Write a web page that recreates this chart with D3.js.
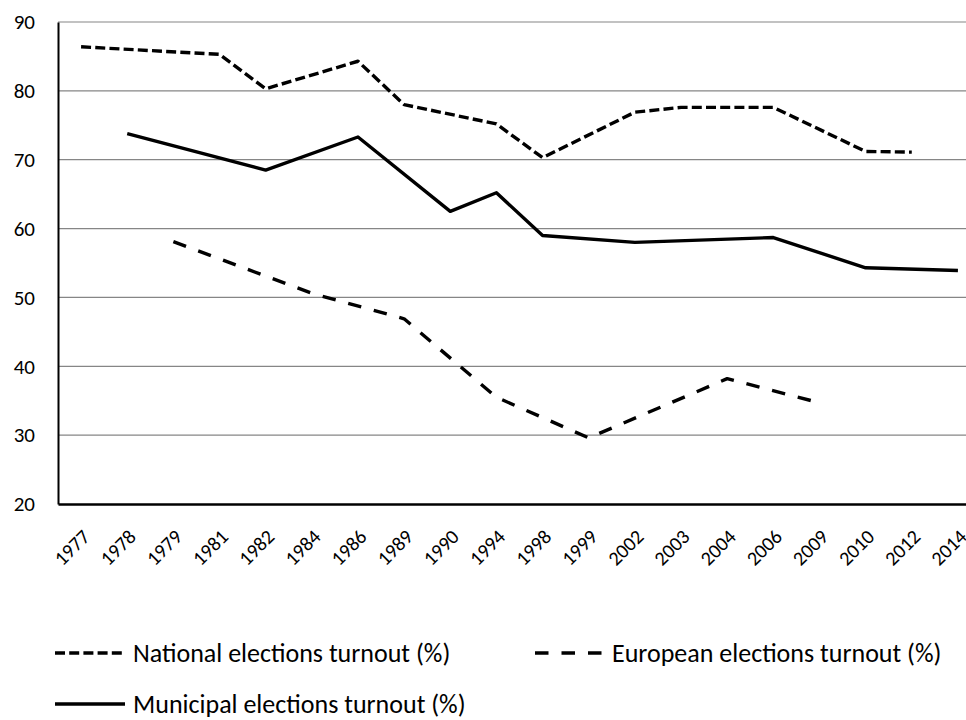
<!DOCTYPE html>
<html>
<head>
<meta charset="utf-8">
<script src="https://cdn.jsdelivr.net/npm/d3@7"></script>
<style>
  body { margin: 0; background: #fff; }
  svg { display: block; font-family: Carlito, Lato, sans-serif; }
</style>
</head>
<body>
<div id="chart"></div>
<script>
// election years on the x axis (categorical)
const years = ["1977", "1978", "1979", "1981", "1982", "1984", "1986", "1989", "1990", "1994",
  "1998", "1999", "2002", "2003", "2004", "2006", "2009", "2010", "2012", "2014"];

// turnout per year, null where there was no election of that kind
const national = [86.4, null, null, 85.3, 80.3, null, 84.3, 78.0, null, 75.2,
  70.3, null, 76.9, 77.6, null, 77.6, null, 71.2, 71.1, null];
const european = [null, null, 58.1, null, null, 50.6, null, 46.9, null, 35.5,
  null, 29.6, null, null, 38.2, null, 34.7, null, null, null];
const municipal = [null, 73.8, null, null, 68.5, null, 73.3, null, 62.5, 65.2,
  59.0, null, 58.0, null, null, 58.7, null, 54.3, null, 53.9];

const yTicks = [20, 30, 40, 50, 60, 70, 80, 90];

const width = 966,
  height = 720,
  margin = { top: 22, bottom: 216, left: 58, right: -15 };

const series = [
  { name: "National elections turnout (%)", values: national, dash: "10,4.2" },
  { name: "European elections turnout (%)", values: european, dash: "13.5,13" },
  { name: "Municipal elections turnout (%)", values: municipal, dash: null }
];

const svg = d3.select("#chart")
  .append("svg")
  .attr("width", width)
  .attr("height", height);

const xScale = d3.scaleBand()
  .domain(years)
  .range([margin.left, width - margin.right]);

const yScale = d3.scaleLinear()
  .domain([20, 90])
  .range([height - margin.bottom, margin.top]);

// gridlines
svg.append("g")
  .selectAll("line")
  .data(yTicks.filter(d => d > 20))
  .join("line")
  .attr("x1", margin.left)
  .attr("x2", width - margin.right)
  .attr("y1", d => yScale(d))
  .attr("y2", d => yScale(d))
  .attr("stroke", "#868686")
  .attr("stroke-width", 1.2);

// y axis labels
const yAxis = d3.axisLeft(yScale)
  .tickValues(yTicks)
  .tickSize(0)
  .tickPadding(23);

svg.append("g")
  .attr("class", "y-axis")
  .attr("transform", `translate(${margin.left},0)`)
  .call(yAxis)
  .call(g => g.select(".domain").attr("stroke", "#000").attr("stroke-width", 2))
  .selectAll("text")
  .style("font-family", "Carlito, Lato, sans-serif")
  .style("font-size", "21px")
  .attr("fill", "#000");

// x axis
const xAxis = d3.axisBottom(xScale).tickSize(0);

svg.append("g")
  .attr("class", "x-axis")
  .attr("transform", `translate(0,${height - margin.bottom})`)
  .call(xAxis)
  .call(g => g.select(".domain").attr("stroke", "#000").attr("stroke-width", 2.4))
  .selectAll("text")
  .attr("y", 0)
  .attr("dy", 0)
  .attr("transform", "translate(10,34) rotate(-45)")
  .style("text-anchor", "end")
  .style("font-family", "Carlito, Lato, sans-serif")
  .style("font-size", "20px")
  .attr("fill", "#000");

// lines
const line = d3.line()
  .x(d => xScale(d.year) + xScale.bandwidth() / 2)
  .y(d => yScale(d.value));

svg.append("g")
  .selectAll("path")
  .data(series)
  .join("path")
  .attr("d", s => line(years.map((y, i) => ({ year: y, value: s.values[i] })).filter(d => d.value != null)))
  .attr("fill", "none")
  .attr("stroke", "#000")
  .attr("stroke-width", 3.4)
  .attr("stroke-linejoin", "round")
  .attr("stroke-dasharray", s => s.dash);

// legend
const legendPos = [[55, 653], [535, 653], [55, 704]];

const legend = svg.append("g")
  .selectAll("g")
  .data(series)
  .join("g")
  .attr("transform", (d, i) => `translate(${legendPos[i][0]},${legendPos[i][1]})`);

legend.append("line")
  .attr("x1", 0)
  .attr("x2", (d, i) => i === 1 ? 67 : 70)
  .attr("stroke", "#000")
  .attr("stroke-width", 3.4)
  .attr("stroke-dasharray", d => d.dash);

legend.append("text")
  .attr("x", (d, i) => i === 1 ? 77 : 78)
  .attr("y", 9)
  .style("font-size", "26px")
  .attr("fill", "#000")
  .text(d => d.name);
</script>
</body>
</html>
